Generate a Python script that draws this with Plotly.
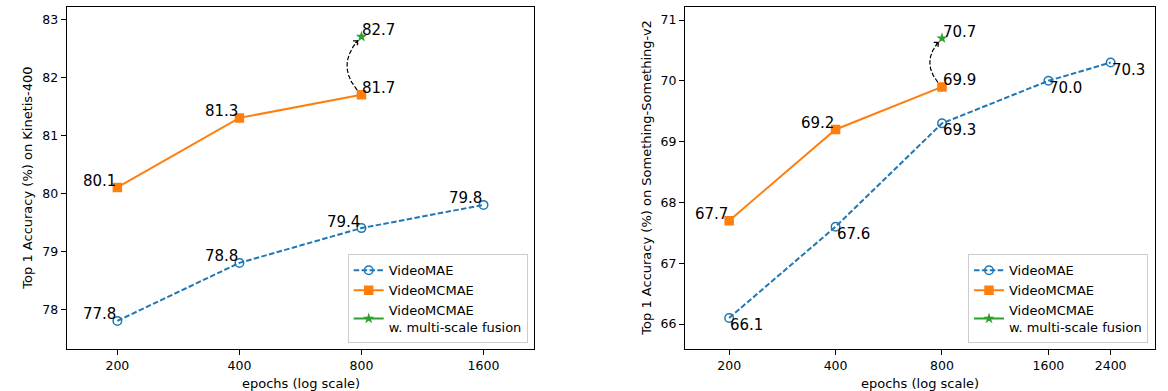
import math
import numpy as np
import plotly.graph_objects as go

# ---------------- data ----------------
k400_epochs_mae = [200, 400, 800, 1600]
k400_mae = [77.8, 78.8, 79.4, 79.8]
k400_epochs_mcmae = [200, 400, 800]
k400_mcmae = [80.1, 81.3, 81.7]
k400_epochs_fusion = [800]
k400_fusion = [82.7]
k400_xticks = [200, 400, 800, 1600]
k400_yticks = [78, 79, 80, 81, 82, 83]

ssv2_epochs_mae = [200, 400, 800, 1600, 2400]
ssv2_mae = [66.1, 67.6, 69.3, 70.0, 70.3]
ssv2_epochs_mcmae = [200, 400, 800]
ssv2_mcmae = [67.7, 69.2, 69.9]
ssv2_epochs_fusion = [800]
ssv2_fusion = [70.7]
ssv2_xticks = [200, 400, 800, 1600, 2400]
ssv2_yticks = [66, 67, 68, 69, 70, 71]

series_names = ["VideoMAE", "VideoMCMAE", "VideoMCMAE<br>w. multi-scale fusion"]

# ---------------- style / layout ----------------
W, H = 1168, 391
FONT = "DejaVu Sans"
BLUE, ORANGE, GREEN = "#1f77b4", "#ff7f0e", "#2ca02c"

panels = [
    dict(xpx=(66.7, 534.3), ypx=(7.0, 349.3),
         xr=(math.log10(150), math.log10(2135)), yr=(77.31, 83.212),
         xticks=k400_xticks, yticks=k400_yticks,
         mae=(k400_epochs_mae, k400_mae), mcmae=(k400_epochs_mcmae, k400_mcmae),
         fus=(k400_epochs_fusion, k400_fusion),
         lab_mae=["ul"] * 4, lab_mcmae=["ul", "ul", "ur"], lab_fus=["ur"],
         ytitle="Top 1 Accuracy (%) on Kinetis-400", ytitle_x=27.5,
         legend_xy=(527.7, 343.3)),
    dict(xpx=(685.0, 1154.8), ypx=(7.0, 349.3),
         xr=(math.log10(150), math.log10(3200)), yr=(65.584, 71.214),
         xticks=ssv2_xticks, yticks=ssv2_yticks,
         mae=(ssv2_epochs_mae, ssv2_mae), mcmae=(ssv2_epochs_mcmae, ssv2_mcmae),
         fus=(ssv2_epochs_fusion, ssv2_fusion),
         lab_mae=["lr"] * 5, lab_mcmae=["ul", "ul", "ur"], lab_fus=["ur"],
         ytitle="Top 1 Accuracy (%) on Something-Something-v2", ytitle_x=646.5,
         legend_xy=(1148.0, 343.3)),
]

fig = go.Figure()
annotations = []
layout = dict(
    width=W, height=H, margin=dict(l=0, r=0, t=0, b=0),
    paper_bgcolor="white", plot_bgcolor="white",
    font=dict(family=FONT, color="black"),
)


def to_px(p, e, v):
    (x0, x1), (y0, y1) = p["xpx"], p["ypx"]
    (a0, a1), (b0, b1) = p["xr"], p["yr"]
    return (x0 + (math.log10(e) - a0) / (a1 - a0) * (x1 - x0),
            y0 + (b1 - v) / (b1 - b0) * (y1 - y0))


def from_px(p, px, py):
    (x0, x1), (y0, y1) = p["xpx"], p["ypx"]
    (a0, a1), (b0, b1) = p["xr"], p["yr"]
    return (10 ** (a0 + (px - x0) / (x1 - x0) * (a1 - a0)),
            b1 - (py - y0) / (y1 - y0) * (b1 - b0))


for i, p in enumerate(panels):
    sfx = "" if i == 0 else str(i + 1)
    xa, ya = "x" + sfx, "y" + sfx
    leg = "legend" + sfx

    fig.add_trace(go.Scatter(
        x=p["mae"][0], y=p["mae"][1], name=series_names[0], mode="lines+markers",
        line=dict(color=BLUE, width=2, dash="5.5px,2.4px"),
        marker=dict(symbol="circle-open", size=8.5, color=BLUE, line=dict(width=1.5)),
        xaxis=xa, yaxis=ya, legend=leg))
    fig.add_trace(go.Scatter(
        x=p["mcmae"][0], y=p["mcmae"][1], name=series_names[1], mode="lines+markers",
        line=dict(color=ORANGE, width=2),
        marker=dict(symbol="square", size=9.5, color=ORANGE),
        xaxis=xa, yaxis=ya, legend=leg))
    fig.add_trace(go.Scatter(
        x=p["fus"][0], y=p["fus"][1], name=series_names[2], mode="lines+markers",
        line=dict(color=GREEN, width=2),
        marker=dict(symbol="star", size=8.5, color=GREEN),
        xaxis=xa, yaxis=ya, legend=leg))

    # curved dashed arrow from VideoMCMAE@800 to fusion point
    sx, sy = to_px(p, p["mcmae"][0][-1], p["mcmae"][1][-1])
    ex, ey = to_px(p, p["fus"][0][0], p["fus"][1][0])
    dx, dy = ex - sx, ey - sy
    rad = 0.5
    cx, cy = (sx + ex) / 2 + rad * dy, (sy + ey) / 2 - rad * dx
    t = np.linspace(0, 1, 200)
    bx = (1 - t) ** 2 * sx + 2 * (1 - t) * t * cx + t ** 2 * ex
    by = (1 - t) ** 2 * sy + 2 * (1 - t) * t * cy + t ** 2 * ey
    keep = (np.hypot(bx - sx, by - sy) > 6) & (np.hypot(bx - ex, by - ey) > 4.5)
    bx, by = bx[keep], by[keep]
    cxs, cys = zip(*[from_px(p, a, b) for a, b in zip(bx, by)])
    fig.add_trace(go.Scatter(
        x=list(cxs), y=list(cys), mode="lines", showlegend=False, hoverinfo="skip",
        line=dict(color="black", width=1.2, dash="4.5px,2px"),
        xaxis=xa, yaxis=ya))
    hx, hy = bx[-1], by[-1]
    tx, ty = ex - cx, ey - cy
    n = math.hypot(tx, ty)
    tx, ty = tx / n, ty / n
    hxd, hyd = from_px(p, hx, hy)
    annotations.append(dict(
        x=math.log10(hxd), y=hyd, xref=xa, yref=ya, text="", showarrow=True,
        ax=-tx * 6, ay=-ty * 6, axref="pixel", ayref="pixel",
        arrowhead=4, arrowsize=1.1, arrowwidth=1.1, arrowcolor="black", standoff=0))

    # value labels
    for (es, vs), poss in ((p["mae"], p["lab_mae"]), (p["mcmae"], p["lab_mcmae"]),
                           (p["fus"], p["lab_fus"])):
        for e, v, pos in zip(es, vs, poss):
            if pos == "ul":
                xan, yan, xs, ys = "right", "bottom", 0.5, -4.5
            elif pos == "ur":
                xan, yan, xs, ys = "left", "bottom", -1, -4.5
            else:  # lower right
                xan, yan, xs, ys = "left", "top", -1, 4
            annotations.append(dict(
                x=math.log10(e), y=v, xref=xa, yref=ya, text=f"{v:.1f}",
                showarrow=False, xanchor=xan, yanchor=yan, xshift=xs, yshift=ys,
                font=dict(size=15, family=FONT, color="black")))

    # axis titles
    annotations.append(dict(
        x=p["ytitle_x"] / W, y=1 - (p["ypx"][0] + p["ypx"][1]) / 2 / H,
        xref="paper", yref="paper", text=p["ytitle"], textangle=-90,
        showarrow=False, xanchor="center", yanchor="middle",
        font=dict(size=13, family=FONT, color="black")))
    annotations.append(dict(
        x=(p["xpx"][0] + p["xpx"][1]) / 2 / W, y=1 - 383.3 / H,
        xref="paper", yref="paper", text="epochs (log scale)",
        showarrow=False, xanchor="center", yanchor="middle",
        font=dict(size=13, family=FONT, color="black")))

    common = dict(showline=True, linecolor="black", linewidth=1, mirror=True,
                  ticks="outside", ticklen=5, tickwidth=1, tickcolor="black",
                  showgrid=False, zeroline=False,
                  tickfont=dict(size=12.5, family=FONT, color="black"))
    layout["xaxis" + sfx] = dict(
        type="log", range=list(p["xr"]),
        domain=[p["xpx"][0] / W, p["xpx"][1] / W],
        tickvals=p["xticks"], ticktext=[str(v) for v in p["xticks"]],
        anchor=ya, **common)
    layout["yaxis" + sfx] = dict(
        range=list(p["yr"]),
        domain=[1 - p["ypx"][1] / H, 1 - p["ypx"][0] / H],
        tickvals=p["yticks"], ticktext=[str(v) for v in p["yticks"]],
        anchor=xa, **common)
    layout[leg] = dict(
        x=p["legend_xy"][0] / W, y=1 - p["legend_xy"][1] / H,
        xanchor="right", yanchor="bottom",
        bgcolor="rgba(255,255,255,0.8)", bordercolor="#cccccc", borderwidth=1,
        font=dict(size=13, family=FONT, color="black"),
        itemwidth=30, tracegroupgap=0)

layout["annotations"] = annotations
fig.update_layout(**layout)
fig.write_html(
    "out.html",
    config={"responsive": False, "displayModeBar": False},
    post_script="document.body.style.margin='0px';document.body.style.overflow='hidden';",
)
